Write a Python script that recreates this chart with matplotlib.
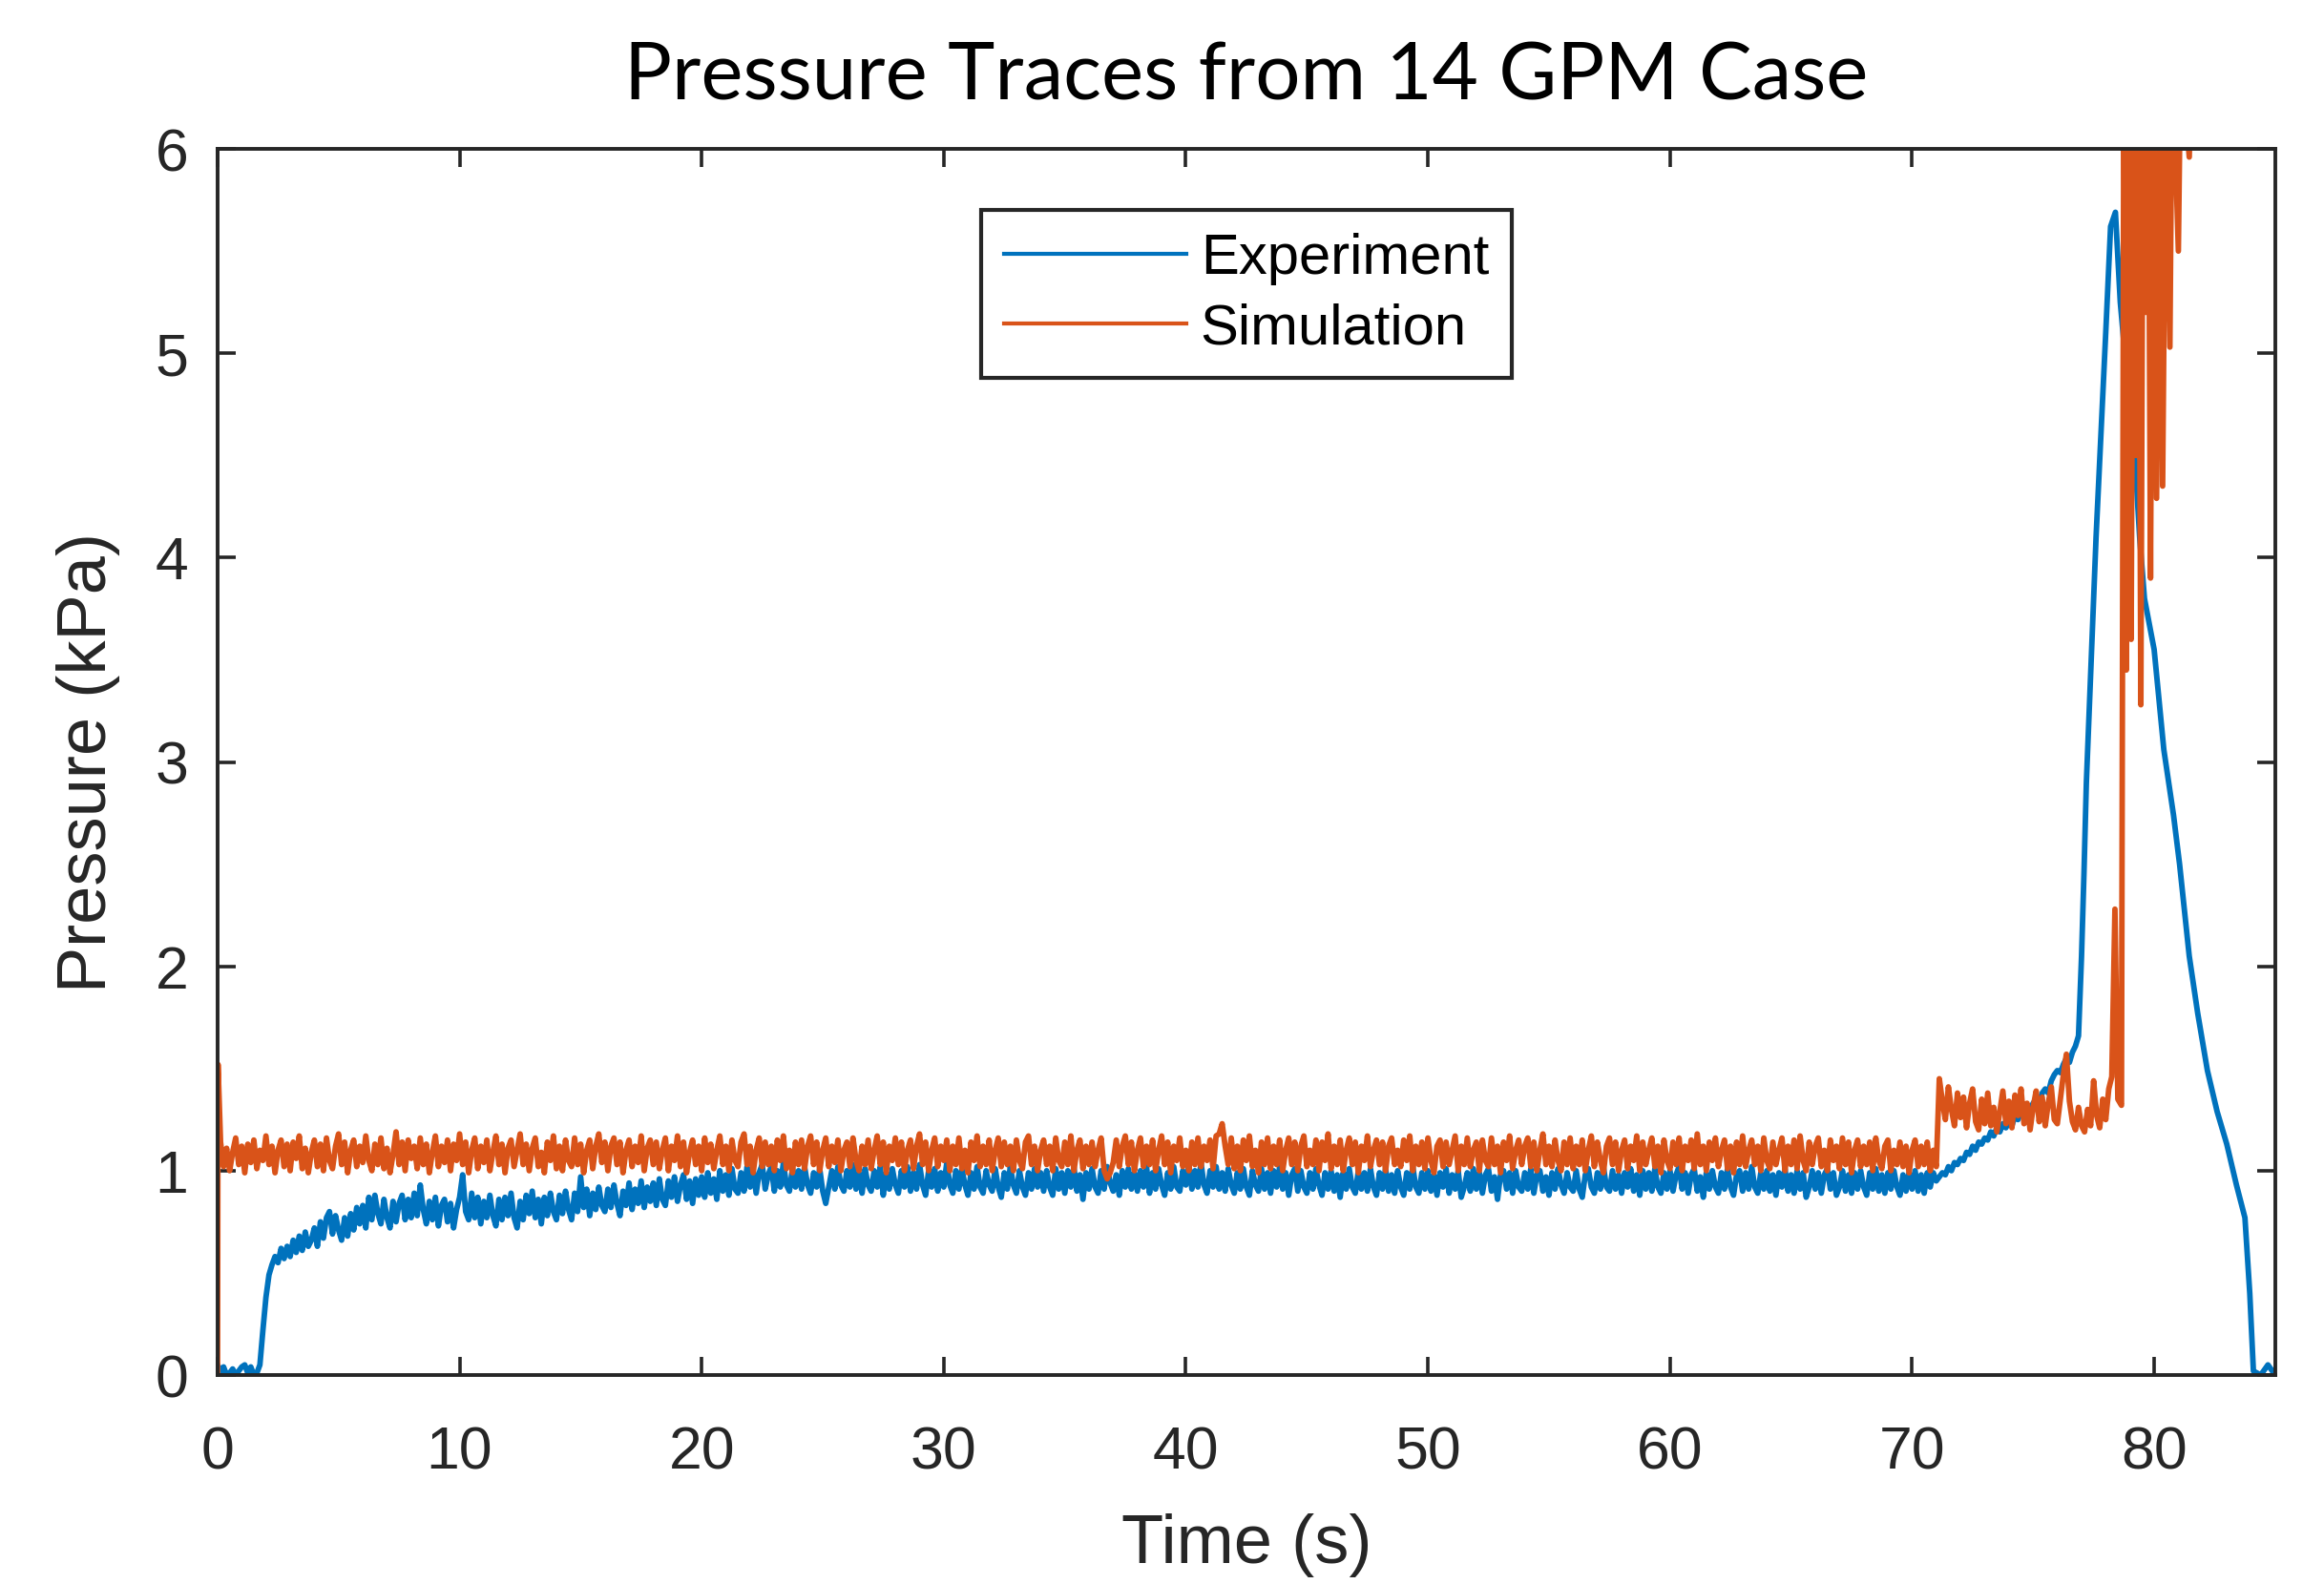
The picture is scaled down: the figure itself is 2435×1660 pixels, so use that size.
import numpy as np
import matplotlib
matplotlib.use("Agg")
import matplotlib.pyplot as plt

plt.rcParams["font.family"] = ["Liberation Sans", "DejaVu Sans"]

# Sampling step of the noisy part of both traces (s)
step = 0.125

# Experiment: samples every 0.125 s from t = 0 to t = 76.875 (16 values = 2 s per row)
exp_noisy = [
    0.05, 0.02, 0.04, 0.00, 0.01, 0.03, 0.00, 0.02, 0.04, 0.05, 0.01, 0.04, 0.00, 0.01, 0.05, 0.22,
    0.38, 0.49, 0.54, 0.58, 0.55, 0.62, 0.57, 0.63, 0.58, 0.66, 0.60, 0.68, 0.61, 0.70, 0.63, 0.66,
    0.72, 0.63, 0.75, 0.67, 0.77, 0.80, 0.69, 0.78, 0.71, 0.66, 0.77, 0.68, 0.79, 0.71, 0.82, 0.74,
    0.83, 0.72, 0.87, 0.76, 0.88, 0.79, 0.74, 0.86, 0.77, 0.72, 0.85, 0.75, 0.84, 0.88, 0.76, 0.86,
    0.77, 0.89, 0.78, 0.93, 0.81, 0.74, 0.85, 0.76, 0.87, 0.73, 0.83, 0.86, 0.75, 0.84, 0.72, 0.81,
    0.87, 0.98, 0.80, 0.76, 0.89, 0.77, 0.87, 0.74, 0.85, 0.77, 0.88, 0.78, 0.73, 0.86, 0.76, 0.87,
    0.78, 0.89, 0.77, 0.72, 0.85, 0.76, 0.88, 0.79, 0.90, 0.77, 0.86, 0.74, 0.87, 0.78, 0.89, 0.80,
    0.76, 0.88, 0.79, 0.90, 0.81, 0.76, 0.89, 0.80, 0.97, 0.82, 0.91, 0.78, 0.89, 0.81, 0.92, 0.83,
    0.80, 0.91, 0.82, 0.93, 0.84, 0.78, 0.90, 0.83, 0.94, 0.81, 0.91, 0.84, 0.95, 0.82, 0.92, 0.85,
    0.94, 0.83, 0.96, 0.86, 0.83, 0.95, 0.87, 0.97, 0.85, 0.93, 0.98, 0.86, 0.95, 0.84, 0.96, 0.88,
    0.97, 0.87, 0.99, 0.89, 0.96, 0.86, 1.00, 0.90, 0.98, 0.88, 1.01, 0.91, 0.89, 0.99, 0.90, 1.02,
    0.92, 1.00, 0.89, 0.99, 1.03, 0.91, 0.98, 1.02, 0.90, 1.00, 0.92, 1.04, 0.93, 0.90, 1.01, 0.92,
    1.00, 0.91, 1.02, 0.93, 0.89, 0.99, 0.92, 1.01, 0.90, 0.84, 0.92, 1.00, 0.91, 1.02, 0.93, 0.90,
    1.00, 0.92, 1.03, 0.91, 0.99, 0.89, 1.01, 0.93, 0.90, 1.00, 0.92, 1.02, 0.88, 0.99, 0.91, 1.01,
    0.93, 0.89, 1.00, 0.92, 1.02, 0.90, 0.99, 0.91, 1.03, 0.93, 0.88, 1.00, 0.92, 1.01, 0.90, 0.99,
    0.92, 1.04, 0.93, 0.89, 1.00, 0.91, 1.01, 0.93, 0.88, 0.99, 0.91, 1.02, 0.92, 0.89, 1.00, 0.93,
    0.90, 1.01, 0.92, 0.87, 0.99, 0.91, 1.02, 0.93, 0.89, 1.00, 0.92, 0.88, 0.99, 0.91, 1.01, 0.92,
    0.99, 0.90, 1.00, 0.92, 0.88, 1.01, 0.91, 0.99, 0.89, 1.00, 0.92, 1.02, 0.90, 0.98, 0.86, 0.99,
    0.91, 1.01, 0.92, 0.89, 1.00, 0.91, 1.02, 0.94, 0.90, 0.98, 0.88, 1.00, 0.92, 1.01, 0.91, 0.99,
    0.90, 1.00, 0.92, 1.02, 0.89, 0.99, 0.91, 1.01, 0.93, 0.88, 0.99, 0.91, 1.02, 0.92, 0.90, 1.00,
    0.93, 1.03, 0.91, 1.00, 0.92, 1.04, 0.93, 0.89, 1.00, 0.92, 1.02, 0.91, 0.99, 0.90, 1.01, 0.93,
    0.89, 0.99, 0.91, 1.01, 0.92, 0.88, 1.00, 0.93, 0.90, 1.01, 0.91, 0.99, 0.89, 1.00, 0.92, 1.02,
    0.91, 0.99, 0.88, 0.98, 1.01, 0.90, 1.00, 0.92, 0.89, 0.99, 0.91, 1.01, 0.93, 0.88, 0.99, 0.91,
    1.00, 0.90, 0.98, 0.87, 0.99, 0.91, 1.01, 0.92, 0.89, 1.00, 0.91, 0.99, 0.90, 1.01, 0.92, 0.88,
    0.99, 0.91, 1.01, 0.90, 0.98, 0.89, 1.00, 0.92, 0.88, 0.99, 0.91, 1.02, 0.92, 0.89, 0.99, 0.91,
    1.00, 0.90, 0.98, 0.88, 0.99, 0.92, 1.01, 0.89, 0.98, 0.91, 1.00, 0.87, 0.92, 0.99, 0.90, 1.01,
    0.91, 0.99, 0.89, 0.98, 1.01, 0.90, 0.97, 0.86, 0.98, 1.00, 0.91, 0.99, 0.89, 1.00, 0.92, 0.90,
    0.99, 0.91, 1.01, 0.89, 0.98, 1.00, 0.90, 0.97, 0.88, 0.99, 0.91, 1.01, 0.93, 0.89, 0.99, 0.92,
    0.90, 1.00, 0.91, 0.87, 0.98, 1.01, 0.92, 0.89, 0.99, 0.91, 1.02, 0.92, 0.90, 1.00, 0.91, 0.98,
    0.89, 0.99, 0.92, 1.01, 0.90, 0.98, 0.88, 1.00, 0.91, 0.99, 0.90, 1.01, 0.92, 0.89, 0.99, 0.91,
    1.00, 0.90, 0.98, 1.02, 0.91, 0.99, 0.89, 0.98, 1.01, 0.90, 0.97, 0.87, 0.99, 0.91, 1.00, 0.92,
    0.89, 0.99, 0.91, 1.01, 0.92, 0.88, 0.98, 1.00, 0.90, 0.99, 0.91, 1.02, 0.92, 0.89, 0.99, 0.91,
    1.00, 0.90, 0.98, 0.88, 0.99, 0.92, 1.01, 0.90, 0.98, 0.89, 1.00, 0.91, 0.99, 0.87, 0.92, 1.00,
    0.91, 0.99, 0.89, 0.98, 1.01, 0.91, 0.99, 0.88, 0.92, 1.00, 0.90, 0.98, 0.89, 0.99, 0.91, 1.00,
    0.92, 0.88, 0.99, 0.91, 1.01, 0.90, 0.98, 0.89, 0.99, 0.91, 1.00, 0.92, 0.88, 0.98, 0.90, 0.99,
    0.91, 1.00, 0.90, 0.98, 0.89, 0.99, 0.92, 0.99, 0.95, 0.97, 0.99, 0.98, 1.02, 1.00, 1.04, 1.03,
    1.06, 1.05, 1.09, 1.08, 1.12, 1.10, 1.14, 1.13, 1.16, 1.15, 1.19, 1.17, 1.21, 1.19, 1.23, 1.21,
    1.24, 1.22, 1.27, 1.25, 1.29, 1.27, 1.31, 1.30, 1.33, 1.35, 1.33, 1.38, 1.40, 1.38, 1.44, 1.47,
    1.49, 1.48, 1.52, 1.55, 1.53, 1.58, 1.61, 1.66,
]

# Experiment: sharp rise, peak and decay
exp_tail_t = [77.0, 77.1, 77.2, 77.4, 77.6, 77.8, 78.0, 78.2, 78.4, 78.6, 78.9, 79.2, 79.4, 79.6,
              80.0, 80.4, 80.8, 81.05, 81.45, 81.8, 82.2, 82.6, 83.0, 83.4, 83.75, 83.95, 84.1,
              84.4, 84.7, 85.0]
exp_tail_p = [2.05, 2.45, 2.90, 3.50, 4.10, 4.60, 5.10, 5.62, 5.69, 5.25, 4.85, 4.50, 4.10, 3.80,
              3.55, 3.06, 2.74, 2.50, 2.05, 1.77, 1.49, 1.29, 1.13, 0.93, 0.77, 0.40, 0.02,
              0.00, 0.05, 0.00]

# Simulation: initial spike
sim_head_t = [0.0, 0.02]
sim_head_p = [0.0, 1.52]

# Simulation: samples every 0.125 s from t = 0.125 to t = 78.25
sim_noisy = [
    1.14, 1.02, 1.11, 1.00, 1.09, 1.16, 1.03, 1.12, 0.99, 1.13, 1.04, 1.15, 1.01, 1.10, 1.05, 1.17,
    1.03, 1.12, 0.99, 1.10, 1.15, 1.02, 1.13, 1.00, 1.14, 1.06, 1.17, 1.01, 1.11, 0.99, 1.09, 1.15,
    1.02, 1.13, 1.00, 1.16, 1.05, 1.01, 1.12, 1.18, 1.03, 1.14, 0.99, 1.10, 1.15, 1.02, 1.12, 1.04,
    1.17, 1.05, 1.00, 1.13, 1.03, 1.16, 1.01, 1.11, 0.99, 1.08, 1.19, 1.03, 1.14, 1.00, 1.15, 1.06,
    1.12, 1.01, 1.16, 1.03, 1.13, 0.99, 1.09, 1.17, 1.02, 1.12, 1.04, 1.15, 1.00, 1.13, 1.05, 1.18,
    1.03, 1.14, 0.99, 1.10, 1.16, 1.01, 1.12, 1.04, 1.15, 1.00, 1.09, 1.17, 1.03, 1.13, 0.99, 1.11,
    1.15, 1.02, 1.10, 1.18, 1.03, 1.13, 1.00, 1.11, 1.16, 1.02, 1.09, 0.99, 1.14, 1.05, 1.17, 1.01,
    1.12, 1.00, 1.15, 1.05, 1.02, 1.16, 1.03, 1.13, 0.99, 1.10, 1.15, 1.01, 1.12, 1.18, 1.04, 1.14,
    1.00, 1.12, 1.16, 1.03, 1.14, 0.99, 1.10, 1.15, 1.02, 1.12, 1.04, 1.17, 1.00, 1.11, 1.15, 1.03,
    1.14, 1.01, 1.10, 1.16, 1.00, 1.12, 1.05, 1.17, 1.02, 1.14, 0.99, 1.09, 1.15, 1.03, 1.12, 1.00,
    1.16, 1.04, 1.13, 1.01, 1.10, 1.17, 1.03, 1.12, 1.00, 1.15, 1.05, 1.02, 1.14, 1.18, 1.03, 1.12,
    0.99, 1.10, 1.16, 1.02, 1.14, 1.03, 1.12, 1.00, 1.15, 1.05, 1.17, 1.01, 1.10, 0.99, 1.14, 1.03,
    1.15, 1.01, 1.12, 1.17, 1.03, 1.14, 1.00, 1.10, 1.16, 1.02, 1.12, 1.04, 1.15, 1.00, 1.10, 1.14,
    1.02, 1.16, 1.05, 1.00, 1.12, 1.03, 1.15, 1.01, 1.10, 1.17, 1.03, 1.14, 0.99, 1.12, 1.05, 1.16,
    1.03, 1.14, 1.00, 1.10, 1.15, 1.01, 1.12, 1.18, 1.03, 1.14, 1.00, 1.10, 1.16, 1.02, 1.12, 1.05,
    1.15, 1.00, 1.12, 1.03, 1.16, 1.01, 1.10, 0.99, 1.14, 1.05, 1.17, 1.02, 1.12, 1.03, 1.15, 1.00,
    1.10, 1.16, 1.02, 1.14, 1.03, 1.12, 1.00, 1.15, 1.05, 1.01, 1.14, 1.17, 1.03, 1.12, 1.00, 1.10,
    1.15, 1.03, 1.12, 1.00, 1.16, 1.05, 1.02, 1.14, 1.03, 1.17, 1.00, 1.10, 1.15, 1.01, 1.12, 1.03,
    1.14, 1.02, 1.10, 1.16, 1.00, 0.96, 0.99, 1.04, 1.15, 1.02, 1.12, 1.17, 1.03, 1.14, 1.00, 1.10,
    1.16, 1.02, 1.12, 1.03, 1.15, 1.00, 1.10, 1.17, 1.03, 1.14, 0.99, 1.12, 1.05, 1.16, 1.02, 1.10,
    1.00, 1.14, 1.03, 1.16, 1.02, 1.12, 1.05, 1.15, 1.01, 1.17, 1.18, 1.23, 1.12, 1.03, 1.16, 1.01,
    1.12, 1.00, 1.15, 1.05, 1.17, 1.02, 1.10, 0.99, 1.14, 1.03, 1.16, 1.01, 1.12, 1.03, 1.15, 1.00,
    1.10, 1.16, 1.03, 1.14, 1.00, 1.12, 1.17, 1.02, 1.10, 1.03, 1.15, 1.00, 1.14, 1.05, 1.18, 1.01,
    1.12, 1.03, 1.15, 1.00, 1.10, 1.16, 1.03, 1.14, 0.99, 1.12, 1.05, 1.17, 1.02, 1.10, 1.15, 1.03,
    1.14, 1.00, 1.12, 1.16, 1.03, 1.10, 1.02, 1.15, 1.05, 1.17, 1.00, 1.12, 1.03, 1.14, 1.01, 1.16,
    1.05, 0.99, 1.12, 1.15, 1.02, 1.14, 1.03, 1.10, 1.17, 1.00, 1.12, 1.03, 1.16, 1.02, 1.10, 1.14,
    1.00, 1.15, 1.05, 1.02, 1.16, 1.03, 1.12, 0.99, 1.14, 1.05, 1.17, 1.01, 1.10, 1.15, 1.03, 1.12,
    1.16, 1.02, 1.14, 1.00, 1.10, 1.18, 1.03, 1.12, 1.02, 1.15, 1.05, 1.00, 1.14, 1.03, 1.16, 1.01,
    1.12, 1.03, 1.15, 1.00, 1.10, 1.17, 1.02, 1.14, 1.05, 0.99, 1.12, 1.16, 1.03, 1.14, 1.00, 1.10,
    1.15, 1.01, 1.12, 1.05, 1.17, 1.00, 1.14, 1.03, 1.10, 1.16, 1.02, 1.12, 0.99, 1.15, 1.05, 1.01,
    1.14, 1.03, 1.16, 1.00, 1.12, 1.05, 1.15, 1.01, 1.18, 1.03, 1.12, 1.00, 1.14, 1.05, 1.16, 1.02,
    1.10, 1.15, 1.01, 1.12, 0.99, 1.14, 1.03, 1.17, 1.02, 1.10, 1.15, 1.03, 1.12, 1.00, 1.16, 1.05,
    1.01, 1.14, 1.03, 1.10, 1.16, 1.00, 1.12, 1.03, 1.15, 1.01, 1.17, 1.05, 1.00, 1.14, 1.03, 1.12,
    1.16, 1.02, 1.10, 1.00, 1.15, 1.05, 1.12, 1.01, 1.16, 1.03, 1.14, 0.99, 1.10, 1.15, 1.02, 1.12,
    1.03, 1.14, 1.00, 1.16, 1.05, 1.01, 1.12, 1.15, 1.00, 1.10, 1.03, 1.14, 1.02, 1.12, 0.99, 1.10,
    1.15, 1.02, 1.12, 1.03, 1.14, 1.00, 1.10, 1.02,
    1.45, 1.34, 1.25, 1.41, 1.30, 1.22, 1.38, 1.26,
    1.36, 1.21, 1.33, 1.40, 1.24, 1.20, 1.35, 1.23,
    1.38, 1.22, 1.31, 1.19, 1.29, 1.39, 1.23, 1.34,
    1.21, 1.37, 1.27, 1.40, 1.23, 1.33, 1.20, 1.31,
    1.39, 1.24, 1.36, 1.22, 1.33, 1.41, 1.25, 1.23,
    1.35, 1.47, 1.57, 1.34, 1.24, 1.20, 1.31, 1.22,
    1.19, 1.30, 1.22, 1.44, 1.27, 1.21, 1.35, 1.25,
    1.40, 1.46,
]

# Simulation: oscillating spike (values above 6 are off-scale)
sim_tail_t = [78.38, 78.5, 78.65, 78.75, 78.85, 78.95, 79.05, 79.15, 79.25, 79.35, 79.45,
              79.55, 79.65, 79.75, 79.85, 79.95, 80.1, 80.25, 80.35, 80.5, 80.65, 80.75, 81.0, 81.1,
              81.45, 81.55]
sim_tail_p = [2.28, 1.35, 1.32, 6.5, 3.45, 6.5, 3.60, 6.5, 4.50, 6.5, 3.28,
              6.5, 5.20, 6.5, 3.90, 6.5, 4.29, 6.5, 4.35, 6.5, 5.03, 6.5, 5.50, 6.5,
              5.96, 6.5]

x_ticks = [0, 10, 20, 30, 40, 50, 60, 70, 80]
y_ticks = [0, 1, 2, 3, 4, 5, 6]

exp_t = np.concatenate([np.arange(len(exp_noisy)) * step, exp_tail_t])
exp_p = np.concatenate([exp_noisy, exp_tail_p])
sim_t = np.concatenate([sim_head_t, step + np.arange(len(sim_noisy)) * step, sim_tail_t])
sim_p = np.concatenate([sim_head_p, sim_noisy, sim_tail_p])

dark = "#262626"
fig = plt.figure(figsize=(24.35, 16.6), dpi=100)
ax = fig.add_axes([0.0936, 0.1319, 0.8854, 0.7741])

ax.plot(exp_t, exp_p, color="#0072BD", lw=4.2, label="Experiment")
ax.plot(sim_t, sim_p, color="#D95319", lw=4.2, label="Simulation")

ax.set_xlim(0, 85)
ax.set_ylim(0, 6)
ax.set_xticks(x_ticks)
ax.set_yticks(y_ticks)

for s in ax.spines.values():
    s.set_linewidth(2.8)
    s.set_color(dark)
ax.tick_params(direction="in", length=14, width=2.6, top=True, right=True,
               labelsize=45, colors=dark)
ax.tick_params(axis="x", pad=38)
ax.tick_params(axis="y", pad=22)

ax.set_xlabel("Time (s)", fontsize=52, color=dark, labelpad=24)
ax.set_ylabel("Pressure (kPa)", fontsize=52, color=dark, labelpad=26)

leg = ax.legend(loc="upper left", bbox_to_anchor=(0.371, 0.950), borderaxespad=0,
                fancybox=False, framealpha=1, edgecolor=dark, handlelength=3.2,
                handletextpad=0.25, labelspacing=0.3, borderpad=0.4,
                prop={"size": 43})
leg.get_frame().set_linewidth(3)
for h in leg.get_lines():
    h.set_linewidth(3)

fig.text(0.5363, 0.9373, "Pressure Traces from 14 GPM Case", ha="center", va="baseline",
         fontsize=60, family="Lato", color="black")

fig.savefig("out.png", dpi=100)
